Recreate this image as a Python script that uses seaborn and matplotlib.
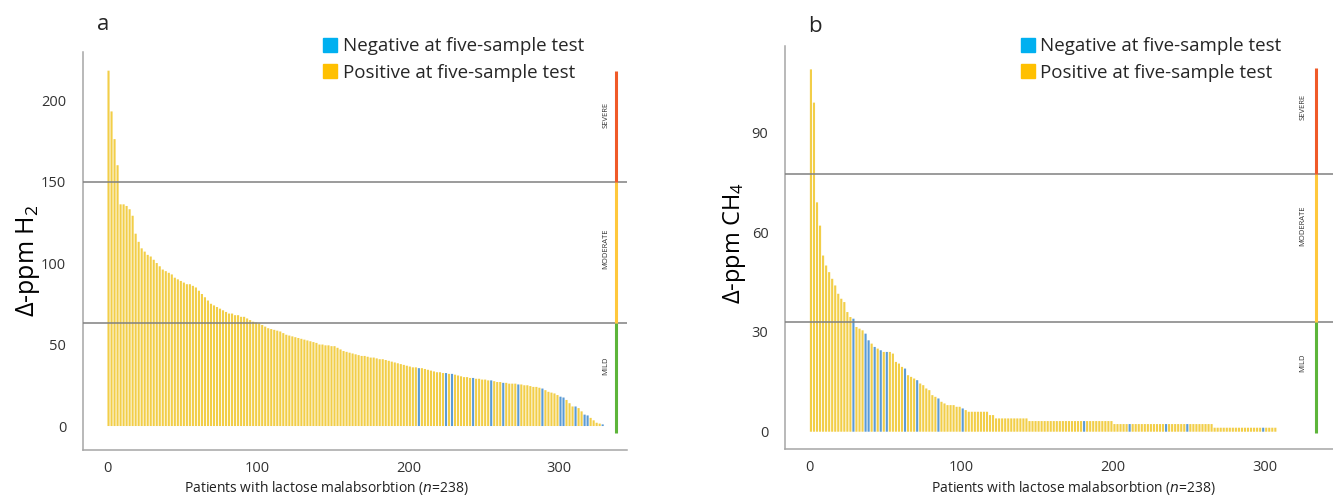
# sorted breath test peaks (H2 and CH4) per patient, coloured by five-sample test result
import numpy as np
import pandas as pd
import matplotlib
matplotlib.use('Agg')
import matplotlib.pyplot as plt
from matplotlib.lines import Line2D
import seaborn as sns

# panel a - delta ppm H2, sorted high to low
h2_values = [
    218, 193, 176, 160, 136, 136, 135, 133, 129, 118,
    113, 109, 107, 105, 104, 102, 100, 98, 96, 95,
    94, 93, 91, 90, 89, 88, 87, 87, 86, 85,
    83, 81, 79, 77, 75, 74, 73, 72, 71, 70,
    69, 69, 68, 68, 67, 67, 66, 65, 64, 63.5,
    63, 62, 61, 60, 59.5, 59, 58.5, 58, 57, 56,
    55.5, 55, 54.5, 54, 53.5, 53, 52.5, 52, 51.5, 51,
    50, 50, 49.5, 49.5, 49, 49, 48, 47, 46, 45.5,
    45, 44.5, 44, 43.5, 43, 43, 42.5, 42, 42, 41.5,
    41, 41, 40.5, 40, 39.5, 39, 38.5, 38, 37.5, 37,
    36.5, 36, 36, 35.5, 35.5, 35, 34.5, 34, 33.5, 33,
    33, 32.5, 32.5, 32, 32, 31.5, 31, 30.5, 30, 30,
    29.5, 29.5, 29, 29, 28.5, 28.5, 28, 28, 27.5, 27,
    27, 26.5, 26.5, 26, 26, 26, 25.5, 25.5, 25, 25,
    24.5, 24, 24, 23.5, 23, 22, 21, 20.5, 20, 19,
    18, 17.5, 16, 14, 12, 12, 11, 9, 7, 6.5,
    5, 3.5, 2, 1.5, 1,
]
# patients (x position) negative at the five-sample test
h2_negative = [207, 225, 229, 243, 255, 263, 273, 289, 301, 303, 311, 317, 319, 329]

# panel b - delta ppm CH4, sorted high to low
ch4_values = [
    109, 99, 69, 62, 53, 50, 48, 46, 44, 41.5,
    40, 39, 36, 34.5, 34, 31.5, 31, 30.5, 29.5, 27.5,
    26.5, 25.5, 25, 24.5, 24, 24, 24, 23.5, 21, 20.5,
    19.5, 19, 17, 16.5, 16, 15.5, 14.5, 14, 13, 12.5,
    11, 10.5, 10, 9, 8.5, 8, 8, 8, 7.5, 7.5,
    7, 6.5, 6, 6, 6, 6, 6, 6, 6, 5,
    5, 4, 4, 4, 4, 4, 4, 4, 4, 4,
    4, 4, 3.2, 3.2, 3.2, 3.2, 3.2, 3.2, 3.2, 3.2,
    3.2, 3.2, 3.2, 3.2, 3.2, 3.2, 3.2, 3.2, 3.2, 3.2,
    3.2, 3.2, 3.2, 3.2, 3.2, 3.2, 3.2, 3.2, 3.2, 3.2,
    2.3, 2.3, 2.3, 2.3, 2.3, 2.3, 2.3, 2.3, 2.3, 2.3,
    2.3, 2.3, 2.3, 2.3, 2.3, 2.3, 2.3, 2.3, 2.3, 2.3,
    2.3, 2.3, 2.3, 2.3, 2.3, 2.3, 2.3, 2.3, 2.3, 2.3,
    2.3, 2.3, 2.3, 1.2, 1.2, 1.2, 1.2, 1.2, 1.2, 1.2,
    1.2, 1.2, 1.2, 1.2, 1.2, 1.2, 1.2, 1.2, 1.2, 1.2,
    1.2, 1.2, 1.2, 1.2,
]
ch4_negative = [29, 37, 39, 43, 47, 51, 63, 71, 85, 101, 181, 211, 235, 249, 299]

# severity cut-offs (mild / moderate / severe)
h2_cutoffs = [63, 150]
ch4_cutoffs = [33, 77.5]
severity_labels = ['MILD', 'MODERATE', 'SEVERE']

pos_color = '#F2CE48'
neg_color = '#5B9BD5'
sev_colors = ['#5DB53A', '#FFC83C', '#F05A28']

sns.set_style('white')
plt.rcParams['font.family'] = ['Open Sans', 'DejaVu Sans']
plt.rcParams['mathtext.default'] = 'regular'


def make_df(values, negative):
    pos = np.arange(len(values)) * 2 + 1
    status = np.where(np.isin(pos, negative), 'neg', 'pos')
    return pd.DataFrame({'pos': pos, 'value': values, 'status': status})


def draw_panel(ax, df, cutoffs, ylim, yticks, sev_x, sev_ext, text_x, text_y, ylabel, ylsize):
    sns.barplot(data=df, x='pos', y='value', hue='status',
                palette={'pos': pos_color, 'neg': neg_color},
                native_scale=True, dodge=False, width=0.7, saturation=1,
                linewidth=0, legend=False, ax=ax)
    # no pixel snapping, so thin bars blend into light/dark stripes like the original
    for p in ax.patches:
        p.set_snap(False)
    for c in cutoffs:
        ax.axhline(c, color='#808080', lw=1.1, zorder=3)
    # severity bar on the right
    bounds = [sev_ext[0]] + cutoffs + [sev_ext[1]]
    for i in range(3):
        ax.plot([sev_x, sev_x], [bounds[i], bounds[i + 1]], color=sev_colors[i],
                lw=2.2, solid_capstyle='butt', zorder=4)
        ax.text(text_x, text_y[i], severity_labels[i], rotation=90, fontsize=5.5,
                ha='center', va='center', color='#333333')
    ax.set_xlim(-16, 345)
    ax.set_ylim(*ylim)
    ax.set_xticks([0, 100, 200, 300])
    ax.set_yticks(yticks)
    ax.tick_params(length=0, labelsize=10.5, colors='#333333')
    ax.tick_params(axis='x', pad=8)
    ax.tick_params(axis='y', pad=12)
    sns.despine(ax=ax)
    for s in ['left', 'bottom']:
        ax.spines[s].set_color('#A6A6A6')
        ax.spines[s].set_linewidth(1.1)
    ax.set_ylabel(ylabel, fontsize=ylsize, color='black')
    ax.set_xlabel('Patients with lactose malabsorbtion ($\\it{n}$=238)', fontsize=10,
                  color='#222222')
    legend_handles = [
        Line2D([], [], marker='s', ls='', color='#00B0F0', markersize=9.5),
        Line2D([], [], marker='s', ls='', color='#FFC000', markersize=9.5),
    ]
    return legend_handles


fig = plt.figure(figsize=(13.33, 4.98), dpi=100)
ax_a = fig.add_axes([0.0622, 0.0964, 0.408, 0.799])
ax_b = fig.add_axes([0.589, 0.0984, 0.411, 0.809])

df_a = make_df(h2_values, h2_negative)
df_b = make_df(ch4_values, ch4_negative)

handles = draw_panel(ax_a, df_a, h2_cutoffs, (-14.7, 229.4), [0, 50, 100, 150, 200],
                     338, (-4, 218), 331, [37, 109, 191], 'Δ-ppm H$_2$', 18)
draw_panel(ax_b, df_b, ch4_cutoffs, (-5.2, 116), [0, 30, 60, 90],
           334, (-0.5, 109.5), 325, [20.7, 62, 97.6], 'Δ-ppm CH$_4$', 17)

ax_a.yaxis.set_label_coords(-0.075, 0.475)
ax_b.yaxis.set_label_coords(-0.067, 0.51)
ax_a.xaxis.set_label_coords(0.447, -0.073)
ax_b.xaxis.set_label_coords(0.526, -0.075)

labels = ['Negative at five-sample test', 'Positive at five-sample test']
for ax, lx in [(ax_a, 0.243), (ax_b, 0.766)]:
    ax.legend(handles, labels, loc='upper left', bbox_to_anchor=(lx, 0.925),
              bbox_transform=fig.transFigure, frameon=False, fontsize=13.5,
              handlelength=0.7, handletextpad=0.3, labelspacing=0.45,
              borderaxespad=0, borderpad=0)

fig.text(103 / 1333, 1 - 25 / 498, 'a', fontsize=16, ha='center', va='center')
fig.text(815 / 1333, 1 - 27 / 498, 'b', fontsize=16, ha='center', va='center')

fig.savefig('out.png', dpi=100)
